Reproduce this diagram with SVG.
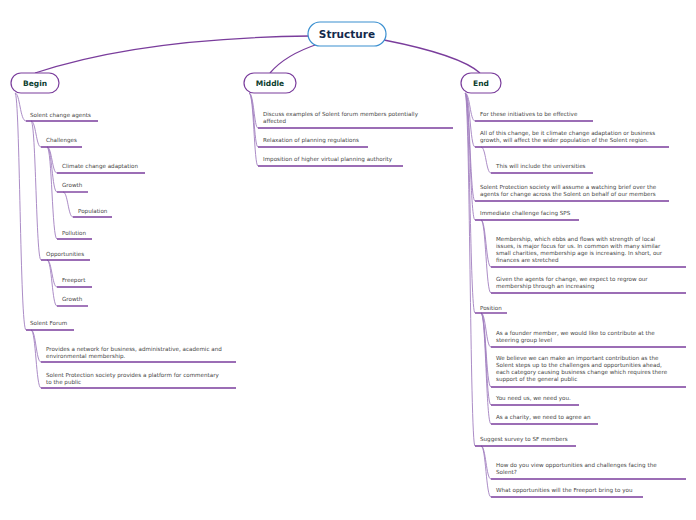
<svg xmlns="http://www.w3.org/2000/svg" width="696" height="520" viewBox="0 0 696 520">
<style>
.t{font-family:"DejaVu Sans",Verdana,sans-serif;font-size:5.6px;fill:#444}
.ul{stroke:#7a3d9c;stroke-width:1.4;fill:none}
.c{stroke:#a27fc0;stroke-width:0.9;fill:none}
.m{stroke:#7a3d9c;stroke-width:1.2;fill:#fff}
.mt{font-family:"DejaVu Sans",Verdana,sans-serif;font-size:7.5px;font-weight:bold;fill:#0b3d2e;text-anchor:middle}
.r{stroke:#7a3d9c;stroke-width:1.3;fill:none}
</style>
<g id="connectors">
<path class="r" d="M310,36 Q140,38 35,73"/>
<path class="r" d="M318,44 Q285,55 270,73"/>
<path class="r" d="M384,40 Q460,55 480,73"/>
<path class="c" d="M15,93 C20,93 20,121 26,121"/>
<path class="c" d="M15,93 C20,93 20,330 26,330"/>
<path class="c" d="M31,121 C36,121 36,147 41,147"/>
<path class="c" d="M31,121 C36,121 36,260 41,260"/>
<path class="c" d="M47,147 C52,147 52,173 57,173"/>
<path class="c" d="M47,147 C52,147 52,192 57,192"/>
<path class="c" d="M47,147 C52,147 52,239 57,239"/>
<path class="c" d="M63,192 C68,192 68,217 73,217"/>
<path class="c" d="M47,260 C52,260 52,287 57,287"/>
<path class="c" d="M47,260 C52,260 52,306 57,306"/>
<path class="c" d="M31,330 C36,330 36,362 41,362"/>
<path class="c" d="M31,330 C36,330 36,388 41,388"/>
<path class="c" d="M249,93 C254,93 254,128 258,128"/>
<path class="c" d="M249,93 C254,93 254,147 258,147"/>
<path class="c" d="M249,93 C254,93 254,166 258,166"/>
<path class="c" d="M465,93 C470,93 470,121 475,121"/>
<path class="c" d="M465,93 C470,93 470,147 475,147"/>
<path class="c" d="M465,93 C470,93 470,201 475,201"/>
<path class="c" d="M465,93 C470,93 470,220 475,220"/>
<path class="c" d="M465,93 C470,93 470,313 475,313"/>
<path class="c" d="M465,93 C470,93 470,446 475,446"/>
<path class="c" d="M481,147 C486,147 486,173 491,173"/>
<path class="c" d="M481,220 C486,220 486,267 491,267"/>
<path class="c" d="M481,220 C486,220 486,293 491,293"/>
<path class="c" d="M481,313 C486,313 486,347 491,347"/>
<path class="c" d="M481,313 C486,313 486,387 491,387"/>
<path class="c" d="M481,313 C486,313 486,405 491,405"/>
<path class="c" d="M481,313 C486,313 486,424 491,424"/>
<path class="c" d="M481,446 C486,446 486,479 491,479"/>
<path class="c" d="M481,446 C486,446 486,497 491,497"/>
</g>
<g id="root"><rect x="308" y="22" width="78" height="24" rx="12" fill="#fff" stroke="#3a8fd0" stroke-width="1.2"/><text x="347" y="38" text-anchor="middle" font-family="DejaVu Sans,sans-serif" font-size="10.5" font-weight="bold" fill="#13294b">Structure</text></g>
<g id="begin"><rect class="m" x="11" y="73" width="48" height="20" rx="10"/><text class="mt" x="35" y="86">Begin</text></g>
<g id="middle"><rect class="m" x="244" y="73" width="52" height="20" rx="10"/><text class="mt" x="270" y="86">Middle</text></g>
<g id="end"><rect class="m" x="461" y="73" width="40" height="20" rx="10"/><text class="mt" x="481" y="86">End</text></g>
<g id="b1"><text class="t" x="30" y="117">Solent change agents</text><line class="ul" x1="26" y1="121" x2="98" y2="121"/></g>
<g id="b2"><text class="t" x="46" y="142">Challenges</text><line class="ul" x1="41" y1="147" x2="82" y2="147"/></g>
<g id="b3"><text class="t" x="62" y="168">Climate change adaptation</text><line class="ul" x1="57" y1="173" x2="145" y2="173"/></g>
<g id="b4"><text class="t" x="62" y="187">Growth</text><line class="ul" x1="57" y1="192" x2="88" y2="192"/></g>
<g id="b5"><text class="t" x="78" y="213">Population</text><line class="ul" x1="73" y1="217" x2="112" y2="217"/></g>
<g id="b6"><text class="t" x="62" y="235">Pollution</text><line class="ul" x1="57" y1="239" x2="92" y2="239"/></g>
<g id="b7"><text class="t" x="46" y="256">Opportunities</text><line class="ul" x1="41" y1="260" x2="90" y2="260"/></g>
<g id="b8"><text class="t" x="62" y="282">Freeport</text><line class="ul" x1="57" y1="287" x2="92" y2="287"/></g>
<g id="b9"><text class="t" x="62" y="301">Growth</text><line class="ul" x1="57" y1="306" x2="88" y2="306"/></g>
<g id="b10"><text class="t" x="30" y="325">Solent Forum</text><line class="ul" x1="26" y1="330" x2="74" y2="330"/></g>
<g id="b11"><text class="t" x="46" y="351">Provides a network for business, administrative, academic and</text><text class="t" x="46" y="358">environmental membership.</text><line class="ul" x1="41" y1="362" x2="236" y2="362"/></g>
<g id="b12"><text class="t" x="46" y="377">Solent Protection society provides a platform for commentary</text><text class="t" x="46" y="384">to the public</text><line class="ul" x1="41" y1="388" x2="236" y2="388"/></g>
<g id="m1"><text class="t" x="263" y="116">Discuss examples of Solent forum members potentially</text><text class="t" x="263" y="123">affected</text><line class="ul" x1="258" y1="128" x2="453" y2="128"/></g>
<g id="m2"><text class="t" x="263" y="142">Relaxation of planning regulations</text><line class="ul" x1="258" y1="147" x2="368" y2="147"/></g>
<g id="m3"><text class="t" x="263" y="161">Imposition of higher virtual planning authority</text><line class="ul" x1="258" y1="166" x2="403" y2="166"/></g>
<g id="e1"><text class="t" x="480" y="116">For these initiatives to be effective</text><line class="ul" x1="475" y1="121" x2="593" y2="121"/></g>
<g id="e2"><text class="t" x="480" y="135">All of this change, be it climate change adaptation or business</text><text class="t" x="480" y="142">growth, will affect the wider population of the Solent region.</text><line class="ul" x1="475" y1="147" x2="669" y2="147"/></g>
<g id="e3"><text class="t" x="496" y="168">This will include the universities</text><line class="ul" x1="491" y1="173" x2="593" y2="173"/></g>
<g id="e4"><text class="t" x="480" y="189">Solent Protection society will assume a watching brief over the</text><text class="t" x="480" y="196">agents for change across the Solent on behalf of our members</text><line class="ul" x1="475" y1="201" x2="669" y2="201"/></g>
<g id="e5"><text class="t" x="480" y="215">Immediate challenge facing SPS</text><line class="ul" x1="475" y1="220" x2="579" y2="220"/></g>
<g id="e6"><text class="t" x="496" y="241">Membership, which ebbs and flows with strength of local</text><text class="t" x="496" y="248">issues, is major focus for us. In common with many similar</text><text class="t" x="496" y="255">small charities, membership age is increasing. In short, our</text><text class="t" x="496" y="262">finances are stretched</text><line class="ul" x1="491" y1="267" x2="686" y2="267"/></g>
<g id="e7"><text class="t" x="496" y="281">Given the agents for change, we expect to regrow our</text><text class="t" x="496" y="288">membership through an increasing</text><line class="ul" x1="491" y1="293" x2="686" y2="293"/></g>
<g id="e8"><text class="t" x="480" y="310">Position</text><line class="ul" x1="475" y1="313" x2="507" y2="313"/></g>
<g id="e9"><text class="t" x="496" y="335">As a founder member, we would like to contribute at the</text><text class="t" x="496" y="342">steering group level</text><line class="ul" x1="491" y1="347" x2="686" y2="347"/></g>
<g id="e10"><text class="t" x="496" y="360">We believe we can make an important contribution as the</text><text class="t" x="496" y="367">Solent steps up to the challenges and opportunities ahead,</text><text class="t" x="496" y="374">each category causing business change which requires there</text><text class="t" x="496" y="381">support of the general public</text><line class="ul" x1="491" y1="387" x2="686" y2="387"/></g>
<g id="e11"><text class="t" x="496" y="400">You need us, we need you.</text><line class="ul" x1="491" y1="405" x2="579" y2="405"/></g>
<g id="e12"><text class="t" x="496" y="419">As a charity, we need to agree an</text><line class="ul" x1="491" y1="424" x2="598" y2="424"/></g>
<g id="e13"><text class="t" x="480" y="441">Suggest survey to SF members</text><line class="ul" x1="475" y1="446" x2="576" y2="446"/></g>
<g id="e14"><text class="t" x="496" y="467">How do you view opportunities and challenges facing the</text><text class="t" x="496" y="474">Solent?</text><line class="ul" x1="491" y1="479" x2="686" y2="479"/></g>
<g id="e15"><text class="t" x="496" y="492">What opportunities will the Freeport bring to you</text><line class="ul" x1="491" y1="497" x2="643" y2="497"/></g>
</svg>
